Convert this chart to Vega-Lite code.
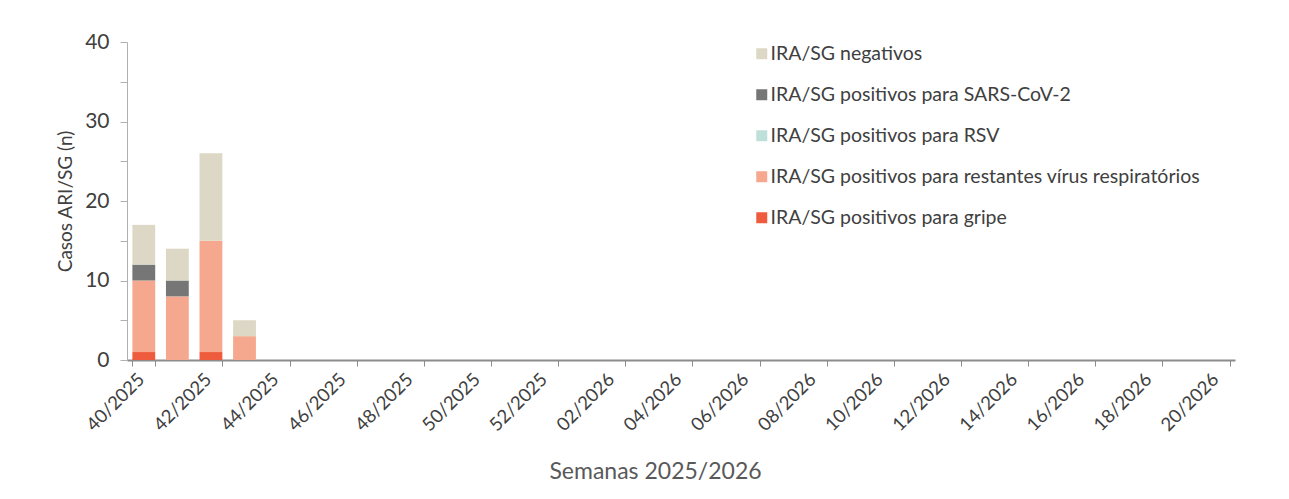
{
  "$schema": "https://vega.github.io/schema/vega-lite/v6.json",
  "width": 1108,
  "height": 318,
  "autosize": {"type": "none"},
  "padding": {"left": 127, "top": 42, "right": 54, "bottom": 139},
  "background": "white",
  "config": {"view": {"stroke": null}, "font": "Lato"},
  "data": {
    "values": [
      {"semana": "40/2025", "categoria": "IRA/SG positivos para gripe", "casos": 1},
      {"semana": "40/2025", "categoria": "IRA/SG positivos para restantes vírus respiratórios", "casos": 9},
      {"semana": "40/2025", "categoria": "IRA/SG positivos para SARS-CoV-2", "casos": 2},
      {"semana": "40/2025", "categoria": "IRA/SG negativos", "casos": 5},
      {"semana": "41/2025", "categoria": "IRA/SG positivos para restantes vírus respiratórios", "casos": 8},
      {"semana": "41/2025", "categoria": "IRA/SG positivos para SARS-CoV-2", "casos": 2},
      {"semana": "41/2025", "categoria": "IRA/SG negativos", "casos": 4},
      {"semana": "42/2025", "categoria": "IRA/SG positivos para gripe", "casos": 1},
      {"semana": "42/2025", "categoria": "IRA/SG positivos para restantes vírus respiratórios", "casos": 14},
      {"semana": "42/2025", "categoria": "IRA/SG negativos", "casos": 11},
      {"semana": "43/2025", "categoria": "IRA/SG positivos para restantes vírus respiratórios", "casos": 3},
      {"semana": "43/2025", "categoria": "IRA/SG negativos", "casos": 2}
    ]
  },
  "transform": [
    {"calculate": "indexof(['IRA/SG positivos para gripe', 'IRA/SG positivos para restantes vírus respiratórios', 'IRA/SG positivos para RSV', 'IRA/SG positivos para SARS-CoV-2', 'IRA/SG negativos'], datum.categoria)", "as": "ordem"}
  ],
  "mark": {"type": "bar"},
  "encoding": {
    "x": {
      "field": "semana",
      "type": "ordinal",
      "scale": {
        "domain": ["40/2025","41/2025","42/2025","43/2025","44/2025","45/2025","46/2025","47/2025","48/2025","49/2025","50/2025","51/2025","52/2025","01/2026","02/2026","03/2026","04/2026","05/2026","06/2026","07/2026","08/2026","09/2026","10/2026","11/2026","12/2026","13/2026","14/2026","15/2026","16/2026","17/2026","18/2026","19/2026","20/2026"],
        "paddingInner": 0.32,
        "paddingOuter": 0.16
      },
      "axis": {
        "title": "Semanas 2025/2026",
        "titleFontSize": 23,
        "titleFontWeight": "normal",
        "titleColor": "#595959",
        "titleX": 528,
        "titleY": 118,
        "titleBaseline": "alphabetic",
        "titleAlign": "center",
        "titleAnchor": null,
        "values": ["40/2025","42/2025","44/2025","46/2025","48/2025","50/2025","52/2025","02/2026","04/2026","06/2026","08/2026","10/2026","12/2026","14/2026","16/2026","18/2026","20/2026"],
        "labelAngle": -45,
        "labelAlign": "right",
        "labelBaseline": "middle",
        "labelFontSize": 18.5,
        "labelColor": "#404040",
        "labelPadding": 10,
        "labelOffset": -3,
        "tickBand": "extent",
        "tickSize": 6,
        "tickColor": "#8c8c8c",
        "domainColor": "#8c8c8c",
        "domainWidth": 2,
        "grid": false
      }
    },
    "y": {
      "field": "casos",
      "type": "quantitative",
      "stack": "zero",
      "scale": {"domain": [0, 40], "nice": false},
      "axis": {
        "title": "Casos ARI/SG (n)",
        "titleFontSize": 19,
        "titleFontWeight": "normal",
        "titleColor": "#404040",
        "titlePadding": 9,
        "values": [0, 5, 10, 15, 20, 25, 30, 35, 40],
        "labelExpr": "datum.value % 10 == 0 ? datum.label : ''",
        "labelFontSize": 21,
        "labelColor": "#404040",
        "labelPadding": 11,
        "tickSize": 7,
        "tickColor": "#b0b0b0",
        "domainColor": "#b0b0b0",
        "grid": false
      }
    },
    "order": {"field": "ordem", "type": "quantitative", "sort": "ascending"},
    "color": {
      "field": "categoria",
      "type": "nominal",
      "scale": {
        "domain": ["IRA/SG negativos", "IRA/SG positivos para SARS-CoV-2", "IRA/SG positivos para RSV", "IRA/SG positivos para restantes vírus respiratórios", "IRA/SG positivos para gripe"],
        "range": ["#dcd8c5", "#767676", "#bfe0d8", "#f6a88f", "#ef5b3d"]
      },
      "legend": {
        "orient": "none",
        "legendX": 625,
        "legendY": 2,
        "title": null,
        "symbolType": "square",
        "symbolSize": 121,
        "symbolStrokeWidth": 0,
        "labelFontSize": 19.5,
        "labelColor": "#404040",
        "labelOffset": -1,
        "labelLimit": 600,
        "rowPadding": 20,
        "padding": 0
      }
    }
  }
}
